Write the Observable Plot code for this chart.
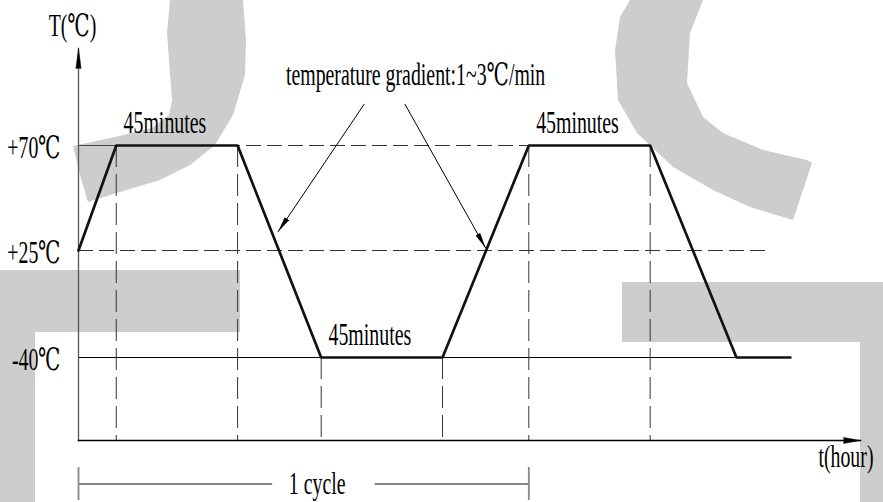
<!DOCTYPE html>
<html><head><meta charset="utf-8">
<script src="https://cdn.jsdelivr.net/npm/d3@7"></script>
<script src="https://cdn.jsdelivr.net/npm/@observablehq/plot@0.6"></script>
<style>
body{margin:0;background:#fff;}
#wrap{position:relative;width:883px;height:502px;overflow:hidden;background:#fff;}
#bg{position:absolute;left:0;top:0;}
#chart{position:absolute;left:0;top:0;width:883px;}
#chart svg{display:block;}
#chart svg.lower{margin-top:-30px;}
</style></head><body>
<div id="wrap">
<svg id="bg" width="883" height="502" xmlns="http://www.w3.org/2000/svg">
  <g fill="#cdcdcd">
    <polygon points="170,0 167,33 172,100 169,115 152,128 115,137 73,146 80,175 88,202 120,192 160,180 190,165 215,145 233,115 245,75 246,40 243,0"/>
    <polygon points="630,0 620,17 615,50 618,100 637,133 673,167 713,190 750,207 793,220 812,163 807,160 763,150 723,133 703,117 687,83 690,33 703,0"/>
    <polygon points="0,270 240,270 240,332 35,332 35,502 0,502"/>
    <polygon points="622,282 883,282 883,502 860,502 860,342 622,342"/>
  </g>
</svg>
<div id="chart"></div>
</div>
<script>
// ---- data ----
const cycleTimes = [0, 14, 59, 90, 135, 167, 212, 244, 264];   // minutes
const cycleTemps = [25, 70, 70, -40, -40, 70, 70, -40, -40];    // °C
const tempLevels = [-40, 25, 70];
const tempLabels = ["-40℃", "+25℃", "+70℃"];
const plateauText = "45minutes";
const plateauIdx = [[1, 2], [3, 4], [5, 6]];
const gradientText = "temperature gradient:1~3℃/min";
const gradientTextPos = [125, 96];                 // [t, temp]
const arrowFrom = [[106, 88], [121, 88]];          // [t, temp]
const arrowTo = [[74, 33], [151, 26]];             // [t, temp]
const ref25End = 256;                              // end of +25℃ dashed line (min)
const axisFloorTemp = -90;                         // temperature at the time axis
const axisTopTemp = 112;
const timeMax = 290;
const cycleStart = 0, cycleEnd = 167;
const cycleGap = [72, 110];                        // gap in the bracket for its label (min)
const cycleLabelT = 88.5;
const yAxisTitle = "T(℃)";
const xAxisTitle = "t(hour)";
const cycleText = "1 cycle";

const curve = cycleTimes.map((t, i) => ({t, temp: cycleTemps[i]}));
const bounds = curve.slice(1, 7);
const plateaus = plateauIdx.map(([a, b]) => ({t: (cycleTimes[a] + cycleTimes[b]) / 2, temp: cycleTemps[a]}));
const arrows = arrowFrom.map((f, i) => ({x1: f[0], y1: f[1], x2: arrowTo[i][0], y2: arrowTo[i][1]}));
const levels = tempLevels.map((v, i) => ({v, label: tempLabels[i]}));
const bracket = [{a: cycleStart, b: cycleGap[0]}, {a: cycleGap[1], b: cycleEnd}];

const FONT = "'Liberation Serif', 'Times New Roman', 'DejaVu Serif', serif";

function spike(color) {
  const ns = "http://www.w3.org/2000/svg";
  const m = document.createElementNS(ns, "marker");
  m.setAttribute("viewBox", "-16 -3 16 6");
  m.setAttribute("markerWidth", 16);
  m.setAttribute("markerHeight", 6);
  m.setAttribute("markerUnits", "userSpaceOnUse");
  m.setAttribute("refX", 0);
  m.setAttribute("refY", 0);
  m.setAttribute("orient", "auto");
  const p = document.createElementNS(ns, "path");
  p.setAttribute("d", "M0,0L-16,-2.6L-16,2.6Z");
  p.setAttribute("fill", color);
  p.setAttribute("stroke", "none");
  m.appendChild(p);
  return m;
}

const dash = "15,6";
const main = Plot.plot({
  width: 883, height: 440,
  marginLeft: 78, marginRight: 23, marginTop: 48, marginBottom: 0,
  style: {fontFamily: FONT, fontSize: "31px", background: "transparent", overflow: "visible"},
  x: {domain: [0, timeMax], axis: null},
  y: {type: "linear", domain: [axisFloorTemp, -40, 25, 70, axisTopTemp], range: [440, 357, 250, 145, 48], axis: null},
  marks: [
    Plot.ruleY([70], {x1: cycleStart, x2: cycleTimes[5], stroke: "#333", strokeWidth: 1, strokeDasharray: dash}),
    Plot.ruleY([70], {x1: cycleTimes[0], x2: cycleTimes[1], stroke: "#444", strokeWidth: 1}),
    Plot.ruleY([25], {x1: cycleStart, x2: ref25End, stroke: "#333", strokeWidth: 1, strokeDasharray: dash}),
    Plot.ruleY([-40], {x1: cycleStart, x2: cycleTimes[7], stroke: "#000", strokeWidth: 1.2}),
    Plot.ruleX(bounds, {x: "t", y1: "temp", y2: () => axisFloorTemp, stroke: "#333", strokeWidth: 1, strokeDasharray: "22,7"}),
    Plot.frame({anchor: "left", stroke: "#555", strokeWidth: 1.3}),
    Plot.frame({anchor: "bottom", stroke: "#000", strokeWidth: 1.5}),
    Plot.vector([0], {frameAnchor: "top-left", shape: "spike", length: 20, r: 2.6, rotate: 0, anchor: "end", fill: "#000", stroke: "#000", strokeWidth: 0.5}),
    Plot.vector([0], {frameAnchor: "bottom-right", shape: "spike", length: 17, r: 3, rotate: 90, anchor: "end", fill: "#000", stroke: "#000", strokeWidth: 0.5}),
    Plot.line(curve, {x: "t", y: "temp", stroke: "#111", strokeWidth: 2.7, strokeLinejoin: "miter"}),
    Plot.link(arrows, {x1: "x1", y1: "y1", x2: "x2", y2: "y2", stroke: "#000", strokeWidth: 1, markerEnd: spike}),
    Plot.text(plateaus, {x: "t", y: "temp", text: () => plateauText, dx: -12, dy: -13, lineAnchor: "bottom", fill: "#000"}),
    Plot.text([gradientText], {x: () => gradientTextPos[0], y: () => gradientTextPos[1], text: d => d, lineAnchor: "bottom", fill: "#000"}),
    Plot.text(levels, {y: "v", text: "label", frameAnchor: "left", textAnchor: "end", dx: -18, dy: 3, lineAnchor: "middle", fill: "#000"}),
    Plot.text([yAxisTitle], {frameAnchor: "top-left", text: d => d, textAnchor: "middle", dx: -6, dy: -13, lineAnchor: "bottom", fill: "#000"})
  ]
});

const lower = Plot.plot({
  width: 883, height: 92,
  marginLeft: 78, marginRight: 23, marginTop: 57, marginBottom: 2,
  style: {fontFamily: FONT, fontSize: "31px", background: "transparent", overflow: "visible"},
  x: {domain: [0, timeMax], axis: null},
  marks: [
    Plot.ruleY(bracket, {y: null, x1: "a", x2: "b", stroke: "#111", strokeWidth: 1.1}),
    Plot.ruleX([cycleStart, cycleEnd], {stroke: "#888", strokeWidth: 1.8}),
    Plot.text([cycleText], {x: () => cycleLabelT, frameAnchor: "middle", text: d => d, lineAnchor: "middle", fill: "#000"}),
    Plot.text([xAxisTitle], {frameAnchor: "top-right", text: d => d, textAnchor: "end", dx: 13, dy: -1, lineAnchor: "bottom", fill: "#000"})
  ]
});
lower.classList.add("lower");

const holder = document.getElementById("chart");
holder.appendChild(main);
holder.appendChild(lower);

document.querySelectorAll("#chart svg text").forEach(t => {
  const L = t.getComputedTextLength();
  if (L > 0) {
    t.setAttribute("textLength", (L * 0.64).toFixed(1));
    t.setAttribute("lengthAdjust", "spacingAndGlyphs");
  }
});
</script>
</body></html>
